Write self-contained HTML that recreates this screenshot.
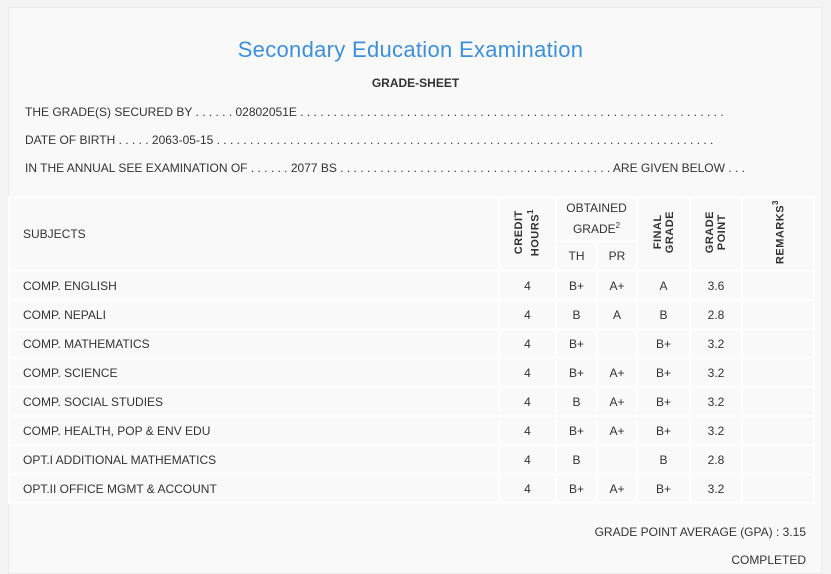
<!DOCTYPE html>
<html><head><meta charset="utf-8"><style>
body{margin:0;width:831px;height:574px;background:#f3f3f3;font-family:"Liberation Sans",sans-serif;color:#333;position:relative;overflow:hidden}
.panel{position:absolute;left:8px;top:7px;width:814px;height:567px;background:#f9f9f9;border:1px solid #ececec;box-sizing:border-box}
.t{position:absolute;white-space:nowrap;font-size:12px}
h1{position:absolute;top:37px;left:0;width:821px;text-align:center;margin:0;font-weight:normal;font-size:22px;color:#3d8fda;letter-spacing:.3px}
.line{position:absolute;left:25px;font-size:12px;white-space:nowrap;overflow:hidden}
table{position:absolute;left:8px;top:196px;border-collapse:collapse;font-size:12px;table-layout:fixed;width:805px}
td{border:2px solid #fff;padding:0;text-align:center;height:29px;box-sizing:border-box}
td.s{text-align:left;padding-left:13px}
.v{writing-mode:vertical-rl;transform:rotate(180deg);font-weight:bold;font-size:11px;letter-spacing:.5px;display:inline-block;line-height:12px}
sup{font-size:8px}
</style></head><body>
<div class="panel"></div>
<h1>Secondary Education Examination</h1>
<div class="t" style="top:76px;left:0;width:831px;text-align:center;font-weight:bold">GRADE-SHEET</div>
<div class="line" style="top:105px;width:700px">THE GRADE(S) SECURED BY . . . . . . 02802051E . . . . . . . . . . . . . . . . . . . . . . . . . . . . . . . . . . . . . . . . . . . . . . . . . . . . . . . . . . . . . . . . . . . . . . . . . . . . . . . . . . . .</div>
<div class="line" style="top:133px;width:692px">DATE OF BIRTH . . . . . 2063-05-15 . . . . . . . . . . . . . . . . . . . . . . . . . . . . . . . . . . . . . . . . . . . . . . . . . . . . . . . . . . . . . . . . . . . . . . . . . . . . . . . . . . . . . . . .</div>
<div class="line" style="top:161px;width:720px">IN THE ANNUAL SEE EXAMINATION OF . . . . . . 2077 BS . . . . . . . . . . . . . . . . . . . . . . . . . . . . . . . . . . . . . . . . . ARE GIVEN BELOW . . .</div>
<table>
<colgroup><col style="width:490px"><col style="width:57px"><col style="width:41px"><col style="width:40px"><col style="width:53px"><col style="width:52px"><col style="width:72px"></colgroup>
<tr><td class="s" rowspan="2" style="height:44px">SUBJECTS</td>
<td rowspan="2"><span class="v">CREDIT<br>HOURS<sup>1</sup></span></td>
<td colspan="2" style="line-height:17px;height:44px">OBTAINED<br>GRADE<sup>2</sup></td>
<td rowspan="2"><span class="v">FINAL<br>GRADE</span></td>
<td rowspan="2"><span class="v">GRADE<br>POINT</span></td>
<td rowspan="2"><span class="v">REMARKS<sup>3</sup></span></td></tr>
<tr><td style="height:30px">TH</td><td style="height:30px">PR</td></tr>
<tr><td class="s">COMP. ENGLISH</td><td>4</td><td>B+</td><td>A+</td><td>A</td><td>3.6</td><td></td></tr>
<tr><td class="s">COMP. NEPALI</td><td>4</td><td>B</td><td>A</td><td>B</td><td>2.8</td><td></td></tr>
<tr><td class="s">COMP. MATHEMATICS</td><td>4</td><td>B+</td><td></td><td>B+</td><td>3.2</td><td></td></tr>
<tr><td class="s">COMP. SCIENCE</td><td>4</td><td>B+</td><td>A+</td><td>B+</td><td>3.2</td><td></td></tr>
<tr><td class="s">COMP. SOCIAL STUDIES</td><td>4</td><td>B</td><td>A+</td><td>B+</td><td>3.2</td><td></td></tr>
<tr><td class="s">COMP. HEALTH, POP &amp; ENV EDU</td><td>4</td><td>B+</td><td>A+</td><td>B+</td><td>3.2</td><td></td></tr>
<tr><td class="s">OPT.I ADDITIONAL MATHEMATICS</td><td>4</td><td>B</td><td></td><td>B</td><td>2.8</td><td></td></tr>
<tr><td class="s">OPT.II OFFICE MGMT &amp; ACCOUNT</td><td>4</td><td>B+</td><td>A+</td><td>B+</td><td>3.2</td><td></td></tr>
</table>
<div class="t" style="top:525px;right:25px">GRADE POINT AVERAGE (GPA) : 3.15</div>
<div class="t" style="top:553px;right:25px">COMPLETED</div>
</body></html>
